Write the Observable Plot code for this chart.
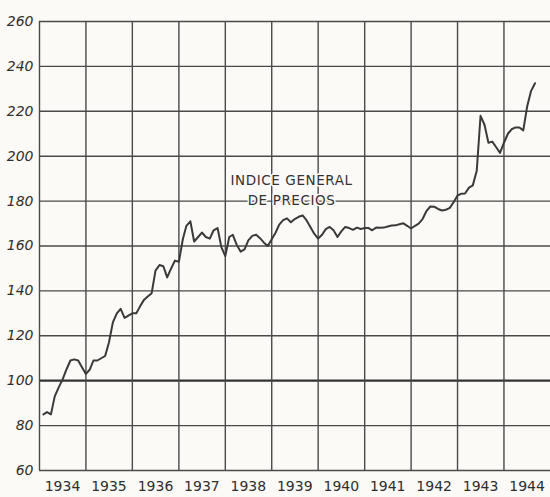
<!DOCTYPE html>
<html>
<head>
<meta charset="utf-8">
<script src="https://cdn.jsdelivr.net/npm/d3@7"></script>
<script src="https://cdn.jsdelivr.net/npm/@observablehq/plot@0.6"></script>
<style>
  html, body { margin: 0; padding: 0; background: #fbfaf6; }
  #chart { width: 550px; height: 497px; }
  #chart .title-text text { letter-spacing: 0.6px; }
</style>
</head>
<body>
<div id="chart"></div>
<script>
// Monthly index values (Feb 1934 - Sep 1944)
const startMonth = "1934-02";
const values = [
  85, 86, 85, 93, 97, 100.5, 105, 109, 109.5, 109, 106,
  103, 105, 109, 109, 110, 111, 117, 126, 130, 132, 128, 129,
  130, 130, 133, 136, 137.5, 139, 149, 151.5, 151, 146, 150, 153.5,
  153, 163, 169, 171, 162, 164, 166, 164, 163.3, 167, 168, 159.5,
  155.5, 164, 165, 160.5, 157.5, 158.5, 162.5, 164.5, 165, 163.5, 161.5, 160,
  163, 166, 169.5, 171.5, 172.3, 170.6, 172, 173, 173.6, 171.5, 168.5, 165.5,
  163.3, 165, 167.5, 168.5, 167, 164, 166.5, 168.5, 168, 167.2, 168.2, 167.6,
  168, 168, 167, 168.2, 168.1, 168.2, 168.7, 169.1, 169.2, 169.7, 170.1, 169,
  167.8, 169, 170, 172, 175.5, 177.6, 177.5, 176.5, 175.8, 176.1, 177, 179.5,
  182.5, 183.3, 183.4, 186, 187, 193.5, 218, 214, 206, 206.5, 204, 201.5,
  206, 210, 212, 212.8, 212.8, 211.5, 222, 229, 232.5
];
const years = [1934, 1935, 1936, 1937, 1938, 1939, 1940, 1941, 1942, 1943, 1944];
const yearLabels = ["1934", "1935", "1936", "1937", "1938", "1939", "1940", "1941", "1942", "1943", "1944"];
const yTicks = [60, 80, 100, 120, 140, 160, 180, 200, 220, 240, 260];
const titleLines = ["INDICE GENERAL", "DE PRECIOS"];

const start = d3.utcParse("%Y-%m")(startMonth);
const series = values.map((v, i) => ({date: d3.utcMonth.offset(start, i), value: v}));
const yearStarts = years.map(y => new Date(Date.UTC(y, 0, 1)));
const yearMids = years.map(y => new Date(Date.UTC(y, 6, 1)));

const ink = "#2e2e2e";
const font = "'DejaVu Sans', sans-serif";
const titleX = new Date(Date.UTC(1939, 5, 6));

const chart = Plot.plot({
  width: 550,
  height: 497,
  marginLeft: 39,
  marginRight: 0,
  marginTop: 21,
  marginBottom: 27,
  style: {background: "#fbfaf6", color: ink, fontFamily: font},
  x: {type: "utc", domain: [new Date(Date.UTC(1934, 0, 1)), new Date(Date.UTC(1945, 0, 1))]},
  y: {domain: [60, 260]},
  marks: [
    Plot.ruleY(yTicks.filter(d => d !== 100), {stroke: "#4a4a4a", strokeWidth: 1.4}),
    Plot.ruleY([100], {stroke: "#333", strokeWidth: 2.2}),
    Plot.ruleX(yearStarts, {stroke: "#4a4a4a", strokeWidth: 1.4}),
    Plot.text([titleLines[0]], {x: () => titleX, y: () => 189.3, text: d => d, className: "title-text",
      fontSize: 13.5, fill: "#333", stroke: "#fbfaf6", strokeWidth: 3}),
    Plot.text([titleLines[1]], {x: () => titleX, y: () => 180.3, text: d => d, className: "title-text",
      fontSize: 13.5, fill: "#333", stroke: "#fbfaf6", strokeWidth: 3}),
    Plot.line(series, {x: "date", y: "value", stroke: "#3a3a3a", strokeWidth: 2, curve: "linear"}),
    Plot.axisY({ticks: yTicks, tickSize: 0, tickPadding: 6, fontSize: 14, fontStyle: "italic", fill: ink, label: null}),
    Plot.axisX({ticks: yearMids, tickSize: 0, tickPadding: 11, fontSize: 14, fill: ink,
      tickFormat: (d, i) => yearLabels[i], label: null})
  ]
});
document.getElementById("chart").appendChild(chart);
</script>
</body>
</html>
